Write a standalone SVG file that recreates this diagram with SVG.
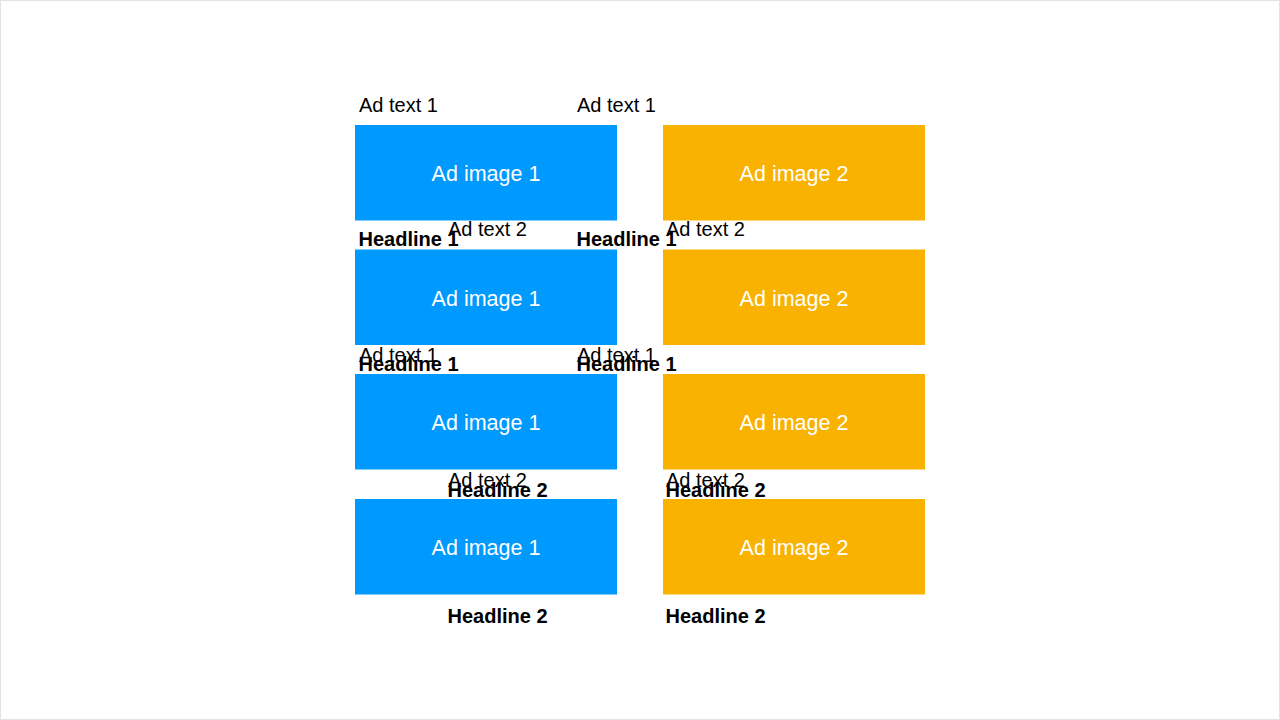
<svg xmlns="http://www.w3.org/2000/svg" width="1280" height="720" viewBox="0 0 1280 720">
<style>
.t{font-family:"Liberation Sans",Arial,sans-serif;font-size:20px;fill:#000}
.h{font-family:"Liberation Sans",Arial,sans-serif;font-size:20px;font-weight:bold;fill:#000}
.img{font-family:"Liberation Sans",Arial,sans-serif;font-size:21.5px;fill:#fff;text-anchor:middle}
.b{fill:#0099FE}
.o{fill:#F9B200}
</style>
<rect x="0" y="0" width="1280" height="720" fill="#fff"/>
<rect x="0.5" y="0.5" width="1279" height="719" fill="none" stroke="#e2e2e2" stroke-width="1"/>
<g id="images">
<g id="blue1"><rect class="b" x="355" y="125" width="262" height="95.5"/><text class="img" x="486" y="181">Ad image 1</text></g>
<g id="blue2"><rect class="b" x="355" y="249.5" width="262" height="95.5"/><text class="img" x="486" y="305.5">Ad image 1</text></g>
<g id="blue3"><rect class="b" x="355" y="374" width="262" height="95.5"/><text class="img" x="486" y="430">Ad image 1</text></g>
<g id="blue4"><rect class="b" x="355" y="499" width="262" height="95.5"/><text class="img" x="486" y="555">Ad image 1</text></g>
<g id="orange1"><rect class="o" x="663" y="125" width="262" height="95.5"/><text class="img" x="794" y="181">Ad image 2</text></g>
<g id="orange2"><rect class="o" x="663" y="249.5" width="262" height="95.5"/><text class="img" x="794" y="305.5">Ad image 2</text></g>
<g id="orange3"><rect class="o" x="663" y="374" width="262" height="95.5"/><text class="img" x="794" y="430">Ad image 2</text></g>
<g id="orange4"><rect class="o" x="663" y="499" width="262" height="95.5"/><text class="img" x="794" y="555">Ad image 2</text></g>
</g>
<g id="labels">
<text class="t" x="359" y="112">Ad text 1</text>
<text class="t" x="577" y="112">Ad text 1</text>
<text class="t" x="448" y="236">Ad text 2</text>
<text class="t" x="666" y="236">Ad text 2</text>
<text class="h" x="358.5" y="245.5">Headline 1</text>
<text class="h" x="576.5" y="245.5">Headline 1</text>
<text class="t" x="359" y="362">Ad text 1</text>
<text class="t" x="577" y="362">Ad text 1</text>
<text class="h" x="358.5" y="371">Headline 1</text>
<text class="h" x="576.5" y="371">Headline 1</text>
<text class="t" x="448" y="486.5">Ad text 2</text>
<text class="t" x="666" y="486.5">Ad text 2</text>
<text class="h" x="447.5" y="496.5">Headline 2</text>
<text class="h" x="665.5" y="496.5">Headline 2</text>
<text class="h" x="447.5" y="623">Headline 2</text>
<text class="h" x="665.5" y="623">Headline 2</text>
</g>
<g id="connectors"/>
</svg>
